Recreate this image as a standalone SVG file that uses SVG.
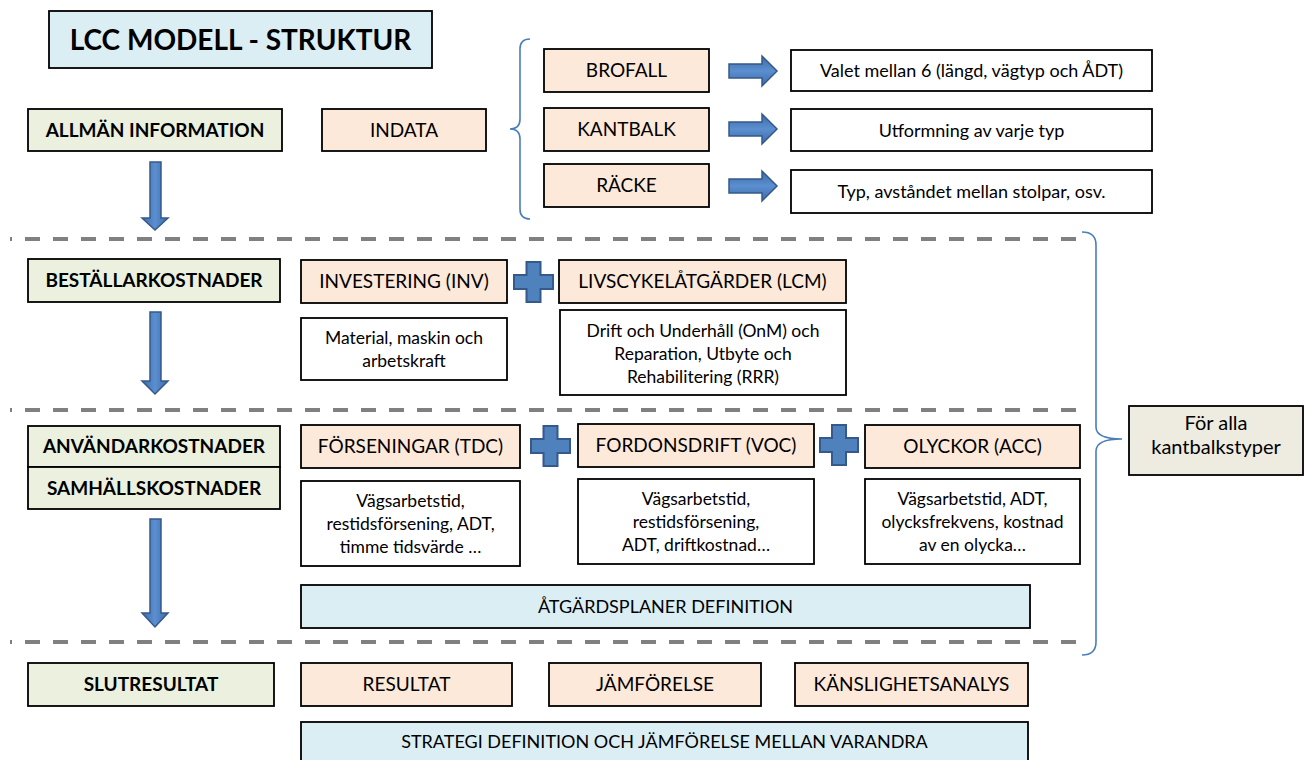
<svg xmlns="http://www.w3.org/2000/svg" width="1308" height="760" viewBox="0 0 1308 760">
<style>
text{font-family:Lato,"Liberation Sans",sans-serif;fill:#000;text-anchor:middle}
.box{stroke:#000;stroke-width:1.8}
.title{fill:#dbeef4}
.green{fill:#ebf1de}
.orange{fill:#fde9d9}
.white{fill:#fff}
.blue{fill:#dbeef4}
.beige{fill:#eeece1}
.b{font-weight:bold;font-size:19px}
.t19{font-size:19px}
.t18{font-size:18px}
.t20{font-size:20px}
.t17{font-size:17.5px}
.arrow{fill:url(#ag);stroke:#34598a;stroke-width:1.5}
.harrow{fill:url(#hg);stroke:#34598a;stroke-width:1.5}
.plus{fill:#4f81bd;stroke:#34598a;stroke-width:2}
.dash{stroke:#808080;stroke-width:4;stroke-dasharray:15 13;fill:none}
.brace{stroke:#4a7ebb;stroke-width:1.6;fill:none}
</style>
<defs>
<linearGradient id="ag" x1="0" y1="0" x2="1" y2="0">
<stop offset="0" stop-color="#3d6aa6"/><stop offset="0.5" stop-color="#5b8fd0"/><stop offset="1" stop-color="#3d6aa6"/>
</linearGradient>
<linearGradient id="hg" x1="0" y1="0" x2="0" y2="1">
<stop offset="0" stop-color="#3d6aa6"/><stop offset="0.5" stop-color="#5b8fd0"/><stop offset="1" stop-color="#3d6aa6"/>
</linearGradient>
</defs>

<g id="title"><rect class="box title" x="49" y="11" width="383" height="57"/><text x="240.5" y="49.5" style="font-weight:bold;font-size:28px">LCC MODELL - STRUKTUR</text></g>

<g id="allman"><rect class="box green" x="28" y="109" width="254" height="42"/><text class="b" x="155" y="136.5">ALLMÄN INFORMATION</text></g>
<g id="indata"><rect class="box orange" x="322" y="109" width="164" height="42"/><text class="t19" x="404" y="136.5">INDATA</text></g>

<g id="brofall"><rect class="box orange" x="544" y="49" width="165" height="43"/><text class="t19" x="626.5" y="77">BROFALL</text></g>
<g id="kantbalk"><rect class="box orange" x="544" y="108" width="165" height="43"/><text class="t19" x="626.5" y="136">KANTBALK</text></g>
<g id="racke"><rect class="box orange" x="544" y="164" width="165" height="43"/><text class="t19" x="626.5" y="192">RÄCKE</text></g>

<g id="valet"><rect class="box white" x="791" y="50" width="361" height="41"/><text class="t18" x="971.5" y="76.5">Valet mellan 6 (längd, vägtyp och ÅDT)</text></g>
<g id="utformning"><rect class="box white" x="791" y="109" width="361" height="42"/><text class="t18" x="971.5" y="136.5">Utformning av varje typ</text></g>
<g id="typ"><rect class="box white" x="791" y="170" width="361" height="43"/><text class="t18" x="971.5" y="197.5">Typ, avståndet mellan stolpar, osv.</text></g>

<g id="bestallar"><rect class="box green" x="28" y="259" width="252" height="43"/><text class="b" x="154" y="287">BESTÄLLARKOSTNADER</text></g>
<g id="investering"><rect class="box orange" x="301" y="260" width="206" height="43"/><text class="t19" x="404" y="288">INVESTERING (INV)</text></g>
<g id="livscykel"><rect class="box orange" x="559" y="260" width="287" height="43"/><text class="t19" x="702.5" y="288">LIVSCYKELÅTGÄRDER (LCM)</text></g>
<g id="material"><rect class="box white" x="301" y="318" width="206" height="62"/><text class="t17" x="404" y="343.5">Material, maskin och</text><text class="t17" x="404" y="366.5">arbetskraft</text></g>
<g id="drift"><rect class="box white" x="560" y="310" width="286" height="85"/><text class="t17" x="703" y="336.5">Drift och Underhåll (OnM) och</text><text class="t17" x="703" y="359.5">Reparation, Utbyte och</text><text class="t17" x="703" y="382.5">Rehabilitering (RRR)</text></g>

<g id="anvandar"><rect class="box green" x="28" y="426" width="252" height="41"/><text class="b" x="154" y="453">ANVÄNDARKOSTNADER</text></g>
<g id="samhall"><rect class="box green" x="28" y="467" width="252" height="42"/><text class="b" x="154" y="494.5">SAMHÄLLSKOSTNADER</text></g>
<g id="forseningar"><rect class="box orange" x="301" y="425" width="219" height="43"/><text class="t19" x="410.5" y="453">FÖRSENINGAR (TDC)</text></g>
<g id="fordonsdrift"><rect class="box orange" x="578" y="424" width="236" height="43"/><text class="t19" x="696" y="452">FORDONSDRIFT (VOC)</text></g>
<g id="olyckor"><rect class="box orange" x="865" y="425" width="215" height="43"/><text class="t19" x="972.5" y="453">OLYCKOR (ACC)</text></g>
<g id="tdc-text"><rect class="box white" x="301" y="481" width="219" height="85"/><text class="t17" x="410.5" y="507">Vägsarbetstid,</text><text class="t17" x="410.5" y="530">restidsförsening,  ADT,</text><text class="t17" x="410.5" y="553">timme tidsvärde …</text></g>
<g id="voc-text"><rect class="box white" x="578" y="479" width="236" height="85"/><text class="t17" x="696" y="505">Vägsarbetstid,</text><text class="t17" x="696" y="528">restidsförsening,</text><text class="t17" x="696" y="551">ADT, driftkostnad…</text></g>
<g id="acc-text"><rect class="box white" x="865" y="479" width="215" height="85"/><text class="t17" x="972.5" y="505">Vägsarbetstid, ADT,</text><text class="t17" x="972.5" y="528">olycksfrekvens, kostnad</text><text class="t17" x="972.5" y="551">av en olycka…</text></g>
<g id="atgardsplaner"><rect class="box blue" x="301" y="585" width="729" height="43"/><text class="t18" x="665.5" y="612.5">ÅTGÄRDSPLANER DEFINITION</text></g>

<g id="for-alla"><rect class="box beige" x="1129" y="406" width="174" height="69"/><text class="t20" x="1216" y="430">För alla</text><text class="t20" x="1216" y="454">kantbalkstyper</text></g>

<g id="slutresultat"><rect class="box green" x="28" y="663" width="246" height="43"/><text class="b" x="151" y="691">SLUTRESULTAT</text></g>
<g id="resultat"><rect class="box orange" x="301" y="663" width="211" height="43"/><text class="t19" x="406.5" y="691">RESULTAT</text></g>
<g id="jamforelse"><rect class="box orange" x="549" y="663" width="212" height="43"/><text class="t19" x="655" y="691">JÄMFÖRELSE</text></g>
<g id="kanslighet"><rect class="box orange" x="795" y="663" width="233" height="43"/><text class="t19" x="911.5" y="691">KÄNSLIGHETSANALYS</text></g>
<g id="strategi"><rect class="box blue" x="301" y="722" width="727" height="42"/><text class="t18" x="664.5" y="747.5">STRATEGI DEFINITION OCH JÄMFÖRELSE MELLAN VARANDRA</text></g>

<g id="connectors">
<line class="dash" x1="10" y1="239" x2="1083" y2="239" style="stroke-dashoffset:13"/>
<line class="dash" x1="10" y1="410" x2="1083" y2="410" style="stroke-dashoffset:13"/>
<line class="dash" x1="10" y1="642" x2="1083" y2="642" style="stroke-dashoffset:13"/>
<path class="brace" d="M530,39 Q520,39 520,49 L520,119 Q520,129 510,129 Q520,129 520,139 L520,209 Q520,219 530,219"/>
<path class="brace" d="M1082,232 Q1096,232 1096,245 L1096,427 Q1096,439 1122,439 Q1096,439 1096,451 L1096,642 Q1096,655 1082,655"/>
<polygon class="arrow" points="150,162 161,162 161,218 168,218 155,230 142,218 150,218"/>
<polygon class="arrow" points="150,312 161,312 161,381 168,381 155,394 142,381 150,381"/>
<polygon class="arrow" points="150,519 161,519 161,613 168,613 155,627 142,613 150,613"/>
<polygon class="harrow" points="729,64 762,64 762,56 777,71 762,86 762,78 729,78"/>
<polygon class="harrow" points="729,122 762,122 762,114 777,129 762,144 762,136 729,136"/>
<polygon class="harrow" points="729,179 762,179 762,171 777,186 762,201 762,193 729,193"/>
<polygon class="plus" points="526.5,262 540.5,262 540.5,275 553,275 553,289 540.5,289 540.5,302 526.5,302 526.5,289 514,289 514,275 526.5,275"/>
<polygon class="plus" points="543.5,426 557.5,426 557.5,439 570,439 570,453 557.5,453 557.5,466 543.5,466 543.5,453 531,453 531,439 543.5,439"/>
<polygon class="plus" points="832,425 846,425 846,438 858,438 858,452 846,452 846,465 832,465 832,452 820,452 820,438 832,438"/>
</g>
</svg>
